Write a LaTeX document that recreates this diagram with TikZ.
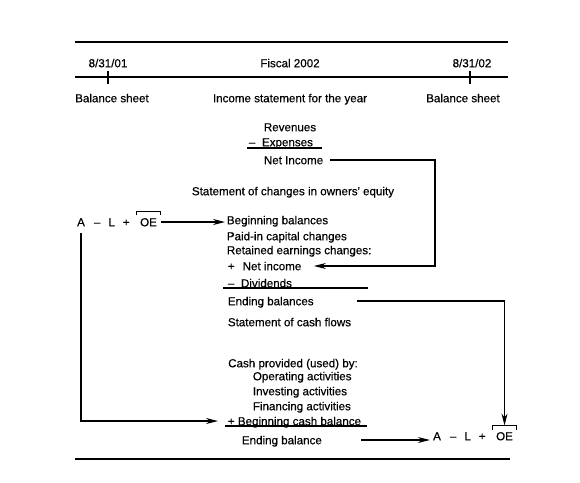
\documentclass[tikz,border=0pt]{standalone}
\usepackage{fontspec}
\setmainfont{Liberation Sans}
\newfontfamily\sheetfont[FakeBold=0.45]{Liberation Sans}
\usetikzlibrary{arrows.meta,positioning}

\tikzset{
  txt/.style={font=\sheetfont\fontsize{8.7}{10}\selectfont, inner sep=1pt, text height=1.5ex, text depth=.3ex},
  arr/.style={-{Stealth[length=9pt,width=4.5pt]}},
  rule/.style={line width=1.1pt},
}
% bracket over the OE term
\newcommand{\oebracket}[1]{%
  \draw ([xshift=-1.5pt,yshift=-1.3pt]#1.north west) -- ([xshift=-1.5pt,yshift=1.7pt]#1.north west)
    -- ([xshift=1.5pt,yshift=1.7pt]#1.north east) -- ([xshift=1.5pt,yshift=-1.3pt]#1.north east);}

\begin{document}
\begin{tikzpicture}[x=0.75pt,y=-0.75pt,line width=0.85pt]
   \useasboundingbox (0,0) rectangle (580,482);

   % time line
   \draw[rule] (75,42) -- (508,42);
   \draw (75,77) -- (508,77);
   \draw (108,71) -- (108,84);
   \draw (470,71) -- (470,84);
   \node[txt] (d1) at (108,63) {8/31/01};
   \node[txt] (fy) at (290,63) {Fiscal 2002};
   \node[txt] (d2) at (472,63) {8/31/02};
   \node[txt] (bs1) at (112,98) {Balance sheet};
   \node[txt] (inc) at (290,98) {Income statement for the year};
   \node[txt] (bs2) at (463,98) {Balance sheet};

   % income statement
   \node[txt,anchor=west] (rev) at (262,127) {Revenues};
   \node[txt,anchor=west] (exp) at (247,142) {–\hspace{5pt}Expenses};
   \draw (247,148) -- (322,148);
   \node[txt,anchor=west] (ni) at (262,160) {Net Income};
   \coordinate (rt1) at (435,200);

   % owners' equity
   \node[txt] (soe) at (293,191) {Statement of changes in owners' equity};
   \node[txt,anchor=west] (beg) at (225,220) {Beginning balances};
   \node[txt,anchor=west] (paid) at (225,236) {Paid-in capital changes};
   \node[txt,anchor=west] (ret) at (225,250) {Retained earnings changes:};
   \node[txt,anchor=west] (nie) at (226,266) {+\hspace{6pt}Net income};
   \node[txt,anchor=west] (div) at (226,283) {–\hspace{5pt}Dividends};
   \draw (223,288) -- (368,288);
   \node[txt,anchor=west] (endb) at (226,301) {Ending balances};

   % cash flows
   \node[txt,anchor=west] (scf) at (226,322) {Statement of cash flows};
   \node[txt] (cpb) at (293,363) {Cash provided (used) by:};
   \node[txt,anchor=west] (op) at (251,376) {Operating activities};
   \node[txt,anchor=west] (inv) at (251,391) {Investing activities};
   \node[txt,anchor=west] (fin) at (251,406) {Financing activities};
   \node[txt,anchor=west] (bcb) at (226,421) {+ Beginning cash balance};
   \draw (225,426) -- (367,426);
   \node[txt,anchor=west] (eb) at (240,440) {Ending balance};

   % A - L + OE, start and end
   \node[txt] (a1) at (81,222) {A};
   \node[txt,right=4pt of a1] (l1) {–\hspace{6pt}L\hspace{6pt}+};
   \node[txt,right=5pt of l1] (oe1) {OE};
   \oebracket{oe1}
   \node[txt] (a2) at (437,436) {A};
   \node[txt,right=4pt of a2] (l2) {–\hspace{6pt}L\hspace{6pt}+};
   \node[txt,right=5pt of l2] (oe2) {OE};
   \oebracket{oe2}

   \draw[arr,shorten <=4pt,shorten >=8pt] (ni.east) -| (rt1) |- (nie.east);
   \draw[arr,shorten <=1.5pt] (oe1.east) -- (oe1.east -| beg.west);
   \draw[arr,shorten <=2pt,shorten >=6pt] (a1.south) |- (bcb.west);
   \draw[arr,shorten <=31pt] (endb.east) -| ([yshift=1.7pt]oe2.north);
   \draw[arr,shorten <=28pt,shorten >=1pt] (eb.east) -- (eb.east -| a2.west);

   \draw[rule] (75,459) -- (510,459);
\end{tikzpicture}
\end{document}
